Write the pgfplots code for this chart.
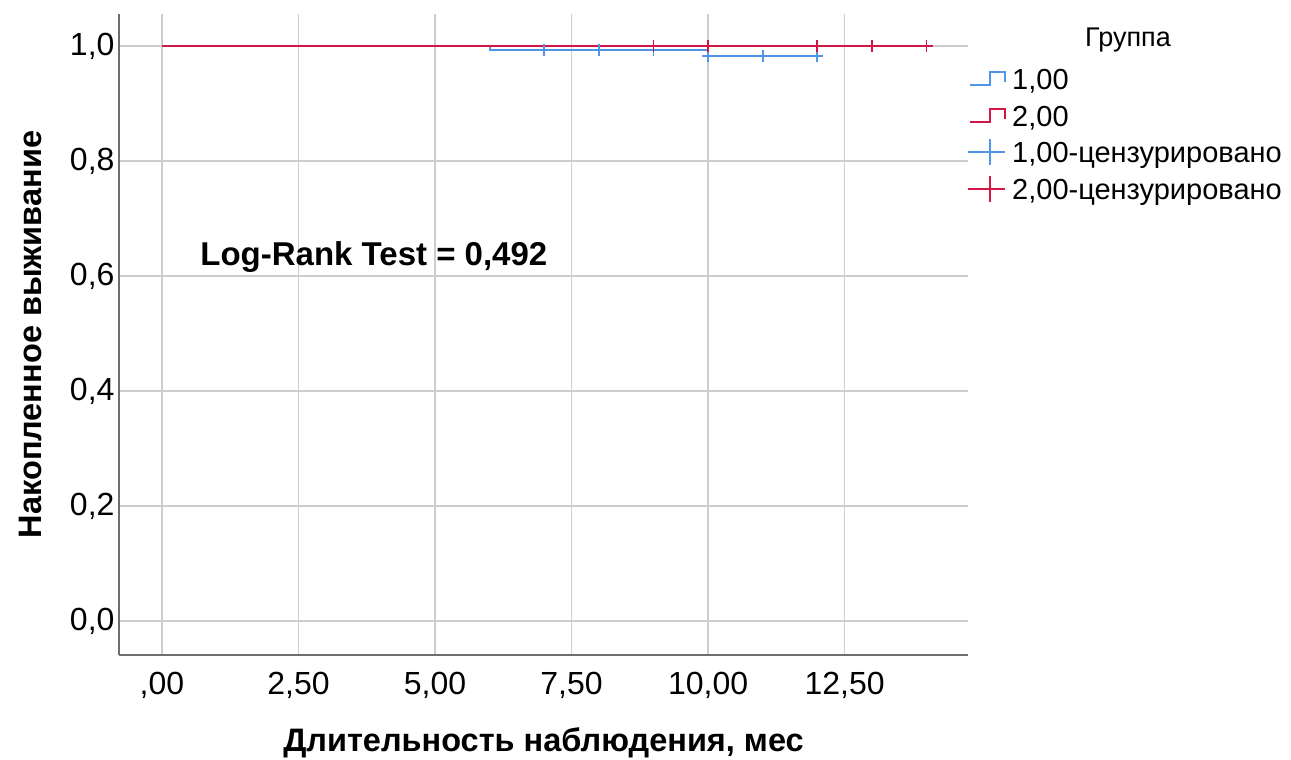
\documentclass[border=0pt]{standalone}
\usepackage{fontspec}
\setmainfont{Liberation Sans}
\usepackage{pgfplots}
\pgfplotsset{compat=1.18}
\definecolor{gblue}{RGB}{80,150,230}
\definecolor{gred}{RGB}{212,22,70}
\definecolor{gridc}{RGB}{205,205,205}
\definecolor{axc}{RGB}{110,110,110}
\begin{document}
\begin{tikzpicture}
\useasboundingbox (-119pt,-105pt) rectangle (1172pt,655pt);
\begin{axis}[
  name=ax,
  at={(0,0)}, anchor=south west,
  scale only axis, width=849pt, height=641pt,
  xmin=-0.787, xmax=14.76, ymin=-0.059, ymax=1.056,
  axis x line=bottom, axis y line=left,
  axis line style={-, draw=axc, line width=1.3pt},
  major tick length=0pt,
  xtick={0,2.5,5,7.5,10,12.5},
  xticklabels={{,00},{2,50},{5,00},{7,50},{10,00},{12,50}},
  ytick={0,0.2,0.4,0.6,0.8,1.0},
  yticklabels={{0,0},{0,2},{0,4},{0,6},{0,8},{1,0}},
  grid=major, grid style={draw=gridc, line width=1.5pt},
  tick label style={font=\fontsize{32}{37}\selectfont},
  xticklabel style={anchor=center, yshift=-30pt},
  yticklabel style={anchor=east, xshift=-1pt},
  xlabel={\textbf{Длительность наблюдения, мес}},
  ylabel={\textbf{Накопленное выживание}},
  label style={font=\fontsize{32.5}{38}\selectfont},
  xlabel style={at={(axis description cs:0.5,-0.1375)}, anchor=center},
  ylabel style={at={(axis description cs:-0.1048,0.5)}, anchor=center},
  clip=false,
]
\addplot[const plot, gblue, line width=1.8pt] coordinates {(0,1) (6,1) (6,0.993) (10,0.993) (10,0.983) (12,0.983)};
\addplot[const plot, gred, line width=1.8pt] coordinates {(0,1) (14,1)};
\addplot[only marks, mark=+, gblue, mark size=6pt, line width=1.8pt] coordinates {(7,0.993) (8,0.993) (9,0.993) (10,0.983) (11,0.983) (12,0.983)};
\addplot[only marks, mark=+, gred, mark size=6pt, line width=1.8pt] coordinates {(9,1) (10,1) (10,1) (12,1) (12,1) (13,1) (14,1)};
\node[font=\fontsize{33}{39}\selectfont\bfseries, anchor=center] at (axis cs:3.88,0.633) {Log-Rank Test = 0,492};
\end{axis}
\node[font=\fontsize{27}{32}\selectfont, anchor=center] at (1009pt,615pt) {Группа};
\draw[gblue, line width=1.3pt] (851pt,570pt) -- (871pt,570pt) -- (871pt,583pt) -- (886pt,583pt) -- (886pt,573pt);
\node[anchor=base west, font=\fontsize{29}{34}\selectfont, inner sep=0pt] at (893pt,565pt) {1,00};
\draw[gred, line width=1.3pt] (851pt,533pt) -- (871pt,533pt) -- (871pt,546pt) -- (886pt,546pt) -- (886pt,536pt);
\node[anchor=base west, font=\fontsize{29}{34}\selectfont, inner sep=0pt] at (893pt,528pt) {2,00};
\draw[gblue, line width=1.3pt] (849pt,503pt) -- (886pt,503pt) (871pt,490pt) -- (871pt,516pt);
\node[anchor=base west, font=\fontsize{29}{34}\selectfont, inner sep=0pt] at (893pt,492pt) {1,00-цензурировано};
\draw[gred, line width=1.3pt] (849pt,466pt) -- (886pt,466pt) (871pt,453pt) -- (871pt,479pt);
\node[anchor=base west, font=\fontsize{29}{34}\selectfont, inner sep=0pt] at (893pt,455pt) {2,00-цензурировано};
\end{tikzpicture}
\end{document}
